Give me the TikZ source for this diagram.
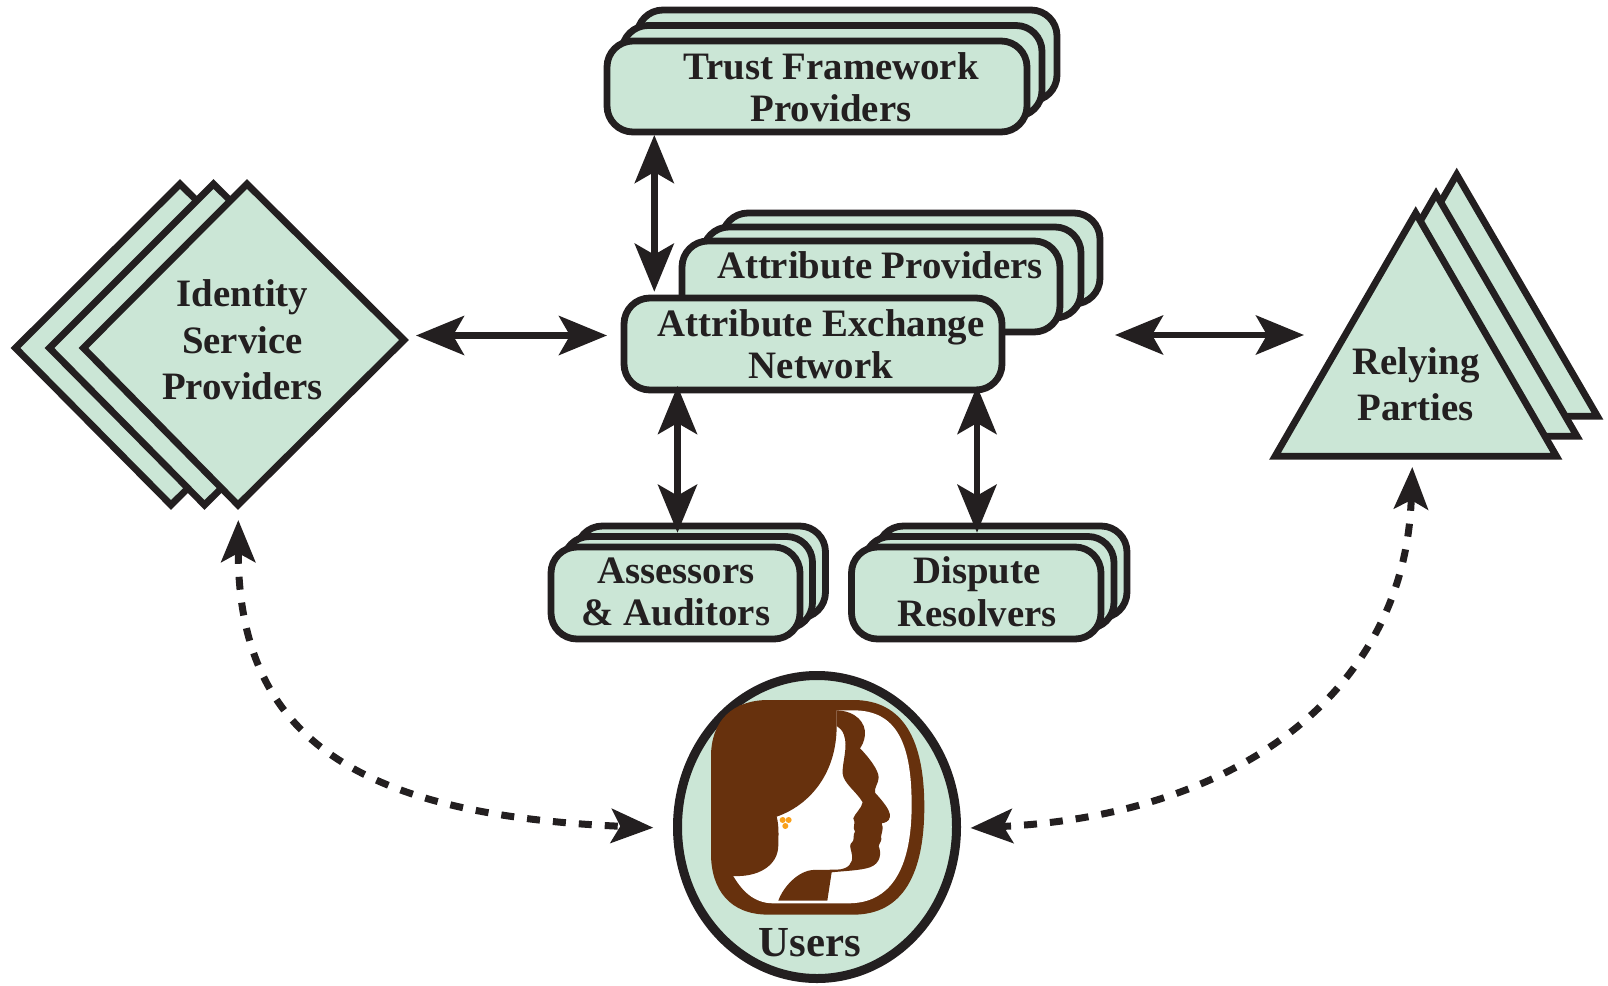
\documentclass[tikz,border=0pt]{standalone}
\usepackage{fontspec}
\setmainfont{Liberation Serif}
\usetikzlibrary{arrows.meta,shapes.geometric}
\definecolor{mint}{HTML}{CBE6D6}
\definecolor{ink}{HTML}{231F20}
\definecolor{brownlogo}{HTML}{67310D}
\definecolor{amberdot}{HTML}{F9A01B}
\tikzset{
  x=1pt,y=-1pt,
  rbox/.style={draw=ink,fill=mint,line width=6.8pt,rounded corners=26pt,inner sep=0pt,outer sep=0pt},
  poly/.style={draw=ink,fill=mint,line width=6.8pt,miter limit=10,line join=miter},
  lbl/.style={text=ink,inner sep=0pt,align=center,font=\fontsize{38.8}{42.5}\selectfont\bfseries},
  lblwide/.style={lbl,font=\fontsize{38.8}{46.3}\selectfont\bfseries},
  lblbig/.style={lbl,font=\fontsize{42.8}{46}\selectfont\bfseries},
  solidlink/.style={draw=ink,line width=6.5pt,{Stealth[length=48pt,width=39pt,inset=11pt]}-{Stealth[length=48pt,width=39pt,inset=11pt]}},
  dashlink/.style={draw=ink,line width=7pt,dash pattern=on 13pt off 13pt,{Stealth[length=42pt,width=34pt,inset=9pt]}-{Stealth[length=42pt,width=34pt,inset=9pt]}},
}
\begin{document}
\begin{tikzpicture}
\useasboundingbox (0,0) rectangle (1608,985);
\fill[white] (0,0) rectangle (1608,985);

% Trust framework
\node[rbox,minimum width=420pt,minimum height=91pt] (tf3) at (847,55.5) {};
\node[rbox,minimum width=420pt,minimum height=91pt] (tf2) at (832,71) {};
\node[rbox,minimum width=420pt,minimum height=91pt] (tf1) at (817,86.5) {};
% Attribute providers
\node[rbox,minimum width=378pt,minimum height=91pt] (ap3) at (911,258.5) {};
\node[rbox,minimum width=378pt,minimum height=91pt] (ap2) at (892,272.5) {};
\node[rbox,minimum width=378pt,minimum height=91pt] (ap1) at (871,286.5) {};
% Exchange
\node[rbox,minimum width=378pt,minimum height=92pt] (ae) at (813,344) {};
% Assessors
\node[rbox,minimum width=249pt,minimum height=92pt] (as3) at (701,572) {};
\node[rbox,minimum width=249pt,minimum height=92pt] (as2) at (688,582.5) {};
\node[rbox,minimum width=249pt,minimum height=92pt] (as1) at (675.5,593) {};
% Dispute
\node[rbox,minimum width=249.5pt,minimum height=92pt] (dr3) at (1002.25,572) {};
\node[rbox,minimum width=249.5pt,minimum height=92pt] (dr2) at (989.25,582.5) {};
\node[rbox,minimum width=249.5pt,minimum height=92pt] (dr1) at (976.25,593) {};

% Diamonds
\draw[poly] (180,184) -- (337,340) -- (171,505) -- (15.5,348) -- cycle;
\draw[poly] (213.5,184) -- (370.5,340) -- (204.5,505) -- (49.5,348) -- cycle;
\draw[poly] (247,184) -- (404,340) -- (238,505) -- (83.5,348) -- cycle;
% Triangles
\draw[poly] (1456.7,174.5) -- (1597.5,416.3) -- (1316,416.3) -- cycle;
\draw[poly] (1436,194) -- (1577,436.3) -- (1295.5,436.3) -- cycle;
\draw[poly] (1415.7,213) -- (1556.5,456.3) -- (1275,456.3) -- cycle;

% Users
\node[draw=ink,fill=mint,line width=9pt,ellipse,minimum width=279pt,minimum height=303pt,inner sep=0pt,outer sep=0pt] (users) at (817,827) {};

% Logo
\begin{scope}[shift={(640,640)},x=0.3333pt,y=-0.3333pt]
\fill[brownlogo] (385,180) -- (640,180) .. controls (790,180) and (853,300) .. (853,500)
  .. controls (853,700) and (790,824) .. (640,824) -- (385,824)
  .. controls (270,824) and (213,750) .. (213,640) -- (213,350)
  .. controls (213,240) and (280,180) .. (385,180) -- cycle;
\fill[white] (590,211) -- (640,211) .. controls (770,211) and (815,310) .. (815,495)
  .. controls (815,690) and (750,790) .. (625,790) -- (400,790)
  .. controls (340,790) and (305,750) .. (280,708) -- (300,300) -- cycle;
\fill[brownlogo] (300,195) -- (590,195) -- (590,258)
  .. controls (590,400) and (510,495) .. (410,530)
  .. controls (418,560) and (415,590) .. (415,615)
  .. controls (415,680) and (350,712) .. (280,708) -- (235,708) -- (225,300) -- cycle;
\fill[brownlogo] (590,205) -- (590,211) .. controls (650,213) and (678,250) .. (675,285)
  .. controls (673,305) and (665,318) .. (660,325)
  .. controls (685,350) and (716,390) .. (716,412)
  .. controls (716,430) and (703,440) .. (705,458)
  .. controls (725,480) and (752,510) .. (750,530)
  .. controls (748,545) and (735,548) .. (725,550)
  .. controls (732,565) and (725,578) .. (723,590)
  .. controls (728,600) and (718,610) .. (716,618)
  .. controls (725,640) and (722,670) .. (690,682)
  .. controls (660,692) and (610,693) .. (575,697)
  -- (562,782) -- (415,782)
  .. controls (430,740) and (475,692) .. (520,690)
  -- (590,689)
  .. controls (625,688) and (640,670) .. (636,645)
  .. controls (634,630) and (628,620) .. (632,612)
  .. controls (648,600) and (636,585) .. (645,575)
  .. controls (635,560) and (650,550) .. (640,535)
  .. controls (645,520) and (665,505) .. (668,487)
  .. controls (650,455) and (610,430) .. (608,400)
  .. controls (606,370) and (625,320) .. (612,285)
  .. controls (608,272) and (600,265) .. (590,258) -- cycle;
\fill[amberdot] (428,540) circle[radius=9];
\fill[amberdot] (446,540) circle[radius=9];
\fill[amberdot] (436,558) circle[radius=9];
\end{scope}

% Labels
\node[lbl] (ltf) at (831,87) {Trust Framework\\Providers};
\node[lbl] (lap) at (880,265) {Attribute Providers};
\node[lbl] (lae) at (821,344) {Attribute Exchange\\Network};
\node[lblwide] (lid) at (242.5,340) {Identity\\Service\\Providers};
\node[lbl] (las) at (676,591.7) {Assessors\\\& Auditors};
\node[lbl] (ldr) at (977,591.7) {Dispute\\Resolvers};
\node[lblwide] (lrp) at (1415.8,384) {Relying\\Parties};
\node[lblbig] (lus) at (810,943) {Users};

% Connector ends
\coordinate (tfS) at (654.3,135);
\coordinate (aeN) at (654.3,291.7);
\coordinate (aeW) at (607,335.5);
\coordinate (idE) at (416,335.5);
\coordinate (aeE) at (1115,335);
\coordinate (rpW) at (1304,335);
\coordinate (aeS1) at (677.5,386);
\coordinate (asN) at (677.5,532.7);
\coordinate (aeS2) at (977,386);
\coordinate (drN) at (977,532.7);
\coordinate (idS) at (238.3,520);
\coordinate (usW) at (653.3,827.7);
\coordinate (rpS) at (1412.3,467);
\coordinate (usE) at (970.5,828);

\draw[solidlink] (tfS) -- (aeN);
\draw[solidlink] (idE) -- (aeW);
\draw[solidlink] (aeE) -- (rpW);
\draw[solidlink] (aeS1) -- (asN);
\draw[solidlink] (aeS2) -- (drN);
\draw[dashlink] (idS) .. controls (238,740) and (360,815) .. (usW);
\draw[dashlink] (rpS) .. controls (1405,690) and (1240,815) .. (usE);
\end{tikzpicture}
\end{document}
